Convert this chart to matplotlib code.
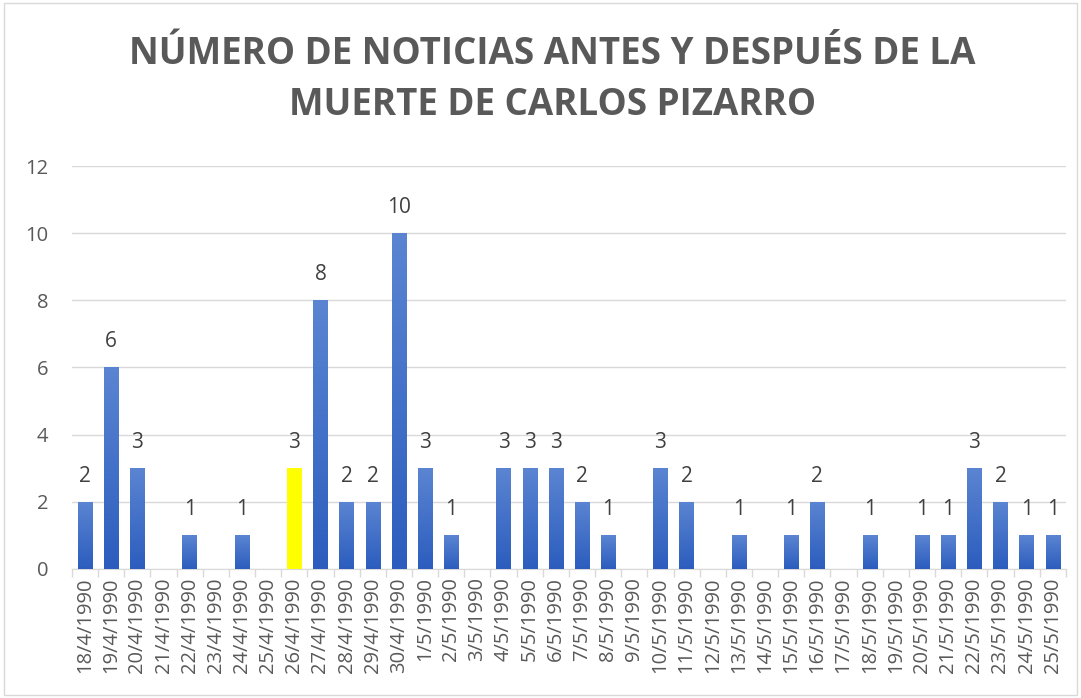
import numpy as np
import matplotlib.pyplot as plt
from matplotlib.patches import Rectangle
from matplotlib.colors import LinearSegmentedColormap

# data
dates = ['18/4/1990', '19/4/1990', '20/4/1990', '21/4/1990', '22/4/1990', '23/4/1990',
         '24/4/1990', '25/4/1990', '26/4/1990', '27/4/1990', '28/4/1990', '29/4/1990',
         '30/4/1990', '1/5/1990', '2/5/1990', '3/5/1990', '4/5/1990', '5/5/1990',
         '6/5/1990', '7/5/1990', '8/5/1990', '9/5/1990', '10/5/1990', '11/5/1990',
         '12/5/1990', '13/5/1990', '14/5/1990', '15/5/1990', '16/5/1990', '17/5/1990',
         '18/5/1990', '19/5/1990', '20/5/1990', '21/5/1990', '22/5/1990', '23/5/1990',
         '24/5/1990', '25/5/1990']
noticias = [2, 6, 3, 0, 1, 0, 1, 0, 3, 8, 2, 2, 10, 3, 1, 0, 3, 3, 3, 2, 1, 0, 3, 2,
            0, 1, 0, 1, 2, 0, 1, 0, 1, 1, 3, 2, 1, 1]
highlight = '26/4/1990'

plt.rcParams['font.family'] = ['Open Sans', 'DejaVu Sans']

fig = plt.figure(figsize=(10.81, 6.98), dpi=100)
ax = fig.add_axes([0.0666, 0.185, 0.9194, 0.577])

x = np.arange(len(dates))
bars = ax.bar(x, noticias, width=0.55, color='none', edgecolor='none', zorder=3)

# gradient fill for the blue bars
cmap = LinearSegmentedColormap.from_list('excel_blue', ['#2C5DBE', '#5B85D2'])
grad = np.linspace(0, 1, 256).reshape(-1, 1)
for b, d in zip(bars, dates):
    h = b.get_height()
    if h == 0:
        continue
    x0 = b.get_x()
    w = b.get_width()
    if d == highlight:
        ax.add_patch(Rectangle((x0, 0), w, h, facecolor='#FFFF00', edgecolor='none', zorder=3))
    else:
        im = ax.imshow(grad, cmap=cmap, origin='lower', aspect='auto',
                       extent=(x0, x0 + w, 0, h), zorder=3)
        clip = Rectangle((x0, 0), w, h, transform=ax.transData)
        im.set_clip_path(clip)
    ax.text(x0 + w / 2, h + 0.45, str(h), ha='center', va='bottom',
            fontsize=15, color='#404040')

ax.set_xlim(-0.5, len(dates) - 0.5)
ax.set_ylim(0, 12)
ax.set_yticks(range(0, 13, 2))
ax.set_xticks(x)
ax.set_xticklabels(dates, rotation=90, fontsize=14.5, color='#595959')
ax.tick_params(axis='y', labelsize=14.5, labelcolor='#595959', length=0, pad=17)
ax.tick_params(axis='x', which='major', length=0, pad=6)
ax.set_xticks(np.arange(-0.5, len(dates), 1), minor=True)
ax.tick_params(axis='x', which='minor', length=6, color='#D9D9D9', width=1)
ax.grid(axis='y', color='#D9D9D9', linewidth=1, zorder=0)
ax.set_axisbelow(True)
for s in ['top', 'right', 'left']:
    ax.spines[s].set_visible(False)
ax.spines['bottom'].set_color('#D9D9D9')

fig.text(0.511, 0.95, 'NÚMERO DE NOTICIAS ANTES Y DESPUÉS DE LA\nMUERTE DE CARLOS PIZARRO',
         ha='center', va='top', fontsize=26.5, fontweight='bold', color='#595959',
         linespacing=1.45)

# chart border
fig.add_artist(Rectangle((0.004, 0.004), 0.992, 0.992, transform=fig.transFigure,
                         fill=False, edgecolor='#D9D9D9', linewidth=1))

plt.savefig('out.png', dpi=100)
